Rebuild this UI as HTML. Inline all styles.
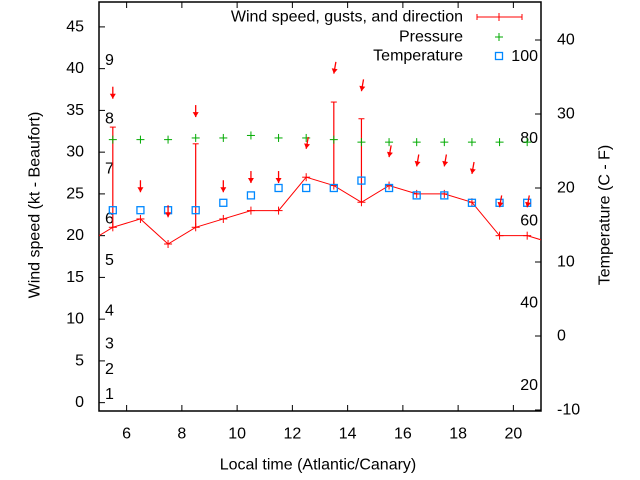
<!DOCTYPE html>
<html><head><meta charset="utf-8"><style>
html,body{margin:0;padding:0;background:#fff}
svg{display:block;font-family:"Liberation Sans",sans-serif}
</style></head><body>
<svg id="chart" width="640" height="480" viewBox="0 0 640 480"></svg>
<script>
const hours=[5.5,6.5,7.5,8.5,9.5,10.5,11.5,12.5,13.5,14.5,15.5,16.5,17.5,18.5,19.5,20.5];
const lineHours=[4.5,5.5,6.5,7.5,8.5,9.5,10.5,11.5,12.5,13.5,14.5,15.5,16.5,17.5,18.5,19.5,20.5,21.5];
const lineSpeed=[19,21,22,19,21,22,23,23,27,26,24,26,25,25,24,20,20,19];
const speed=[21,22,19,21,22,23,23,27,26,24,26,25,25,24,20,20];
const gust=[33,22,19,31,22,23,23,27,36,34,26,25,25,24,20,20];
const pressure=[31.5,31.5,31.5,31.7,31.7,32.0,31.7,31.7,31.5,31.2,31.2,31.2,31.2,31.2,31.2,31.2];
const tempC=[17,17,17,17,18,19,20,20,20,21,20,19,19,18,18,18];
const arrowY=[36.4,25.2,22.2,34.2,25.2,26.3,26.3,30.4,39.4,37.3,29.4,28.3,28.3,27.4,23.4,23.4];
const arrowDir=[0,0,0,0,0,0,0,10,10,10,10,10,10,10,10,10];
const xTicks=[6,8,10,12,14,16,18,20];
const yTicks=[0,5,10,15,20,25,30,35,40,45];
const y2Ticks=[-10,0,10,20,30,40];
const fTicks=[20,40,60,80,100];
const bftLabels=[1,2,3,4,5,6,7,8,9];
const bftKt=[1,4,7,11,17,22,28,34,41];

const L=99,R=541,T=2,B=411;
const FS='16';
const X=v=>L+(v-5)*(R-L)/16;
const Y=v=>B-(v+1)*8.35;
const Y2=c=>410-(c+10)*7.4;
const NS='http://www.w3.org/2000/svg';
const svg=document.getElementById('chart');
function mk(tag,attrs,parent){const e=document.createElementNS(NS,tag);for(const k in attrs)e.setAttribute(k,attrs[k]);(parent||svg).appendChild(e);return e;}
function txt(s,x,y,anchor,parent){const t=mk('text',{x:x,y:y,'font-size':FS,'text-anchor':anchor||'middle',fill:'#000','dominant-baseline':'central'},parent);t.textContent=s;return t;}

const defs=mk('defs',{});
const cp=mk('clipPath',{id:'clip'},defs);
mk('rect',{x:L,y:T,width:R-L,height:B-T},cp);

const frame=mk('rect',{x:L,y:T,width:R-L,height:B-T,fill:'none',stroke:'#000','stroke-width':1.5});



const gx=mk('g',{});


xTicks.forEach(v=>{
 mk('line',{x1:X(v),x2:X(v),y1:B,y2:B-6,stroke:'#000'},gx);
 mk('line',{x1:X(v),x2:X(v),y1:T,y2:T+6,stroke:'#000'},gx);
 const t=txt(String(v),X(v),434,'middle',gx);
 
 
});
const gy=mk('g',{});


yTicks.forEach(v=>{
 mk('line',{x1:L,x2:L+6,y1:Y(v),y2:Y(v),stroke:'#000'},gy);
 const t=txt(String(v),84,Y(v),'end',gy);
 
 
});
const gy2=mk('g',{});


y2Ticks.forEach(v=>{
 mk('line',{x1:R,x2:R-6,y1:Y2(v),y2:Y2(v),stroke:'#000'},gy2);
 const t=txt(String(v),557,Y2(v),'start',gy2);
 
 
});
fTicks.forEach(f=>{
 const c=(f-32)*5/9;
 const t=txt(String(f),538,Y2(c),'end');
 
 
});
bftLabels.forEach((b,i)=>{
 const t=txt(String(b),105,Y(bftKt[i]),'start');
 
 
});

let t=txt('Local time (Atlantic/Canary)',318,465);


t=mk('text',{x:0,y:0,'font-size':FS,'text-anchor':'middle','dominant-baseline':'central',transform:'translate(35,205) rotate(-90)'});
t.textContent='Wind speed (kt - Beaufort)';


t=mk('text',{x:0,y:0,'font-size':FS,'text-anchor':'middle','dominant-baseline':'central',transform:'translate(605,215) rotate(-90)'});
t.textContent='Temperature (C - F)';



const plot=mk('g',{'clip-path':'url(#clip)'});



const pts=lineHours.map((h,i)=>X(h)+','+Y(lineSpeed[i])).join(' ');
const pl=mk('polyline',{points:pts,fill:'none',stroke:'#f00','stroke-width':1},plot);



function plus(x,y,col,s,parent,name){
 const g=mk('g',{},parent);
 
 
 mk('line',{x1:x-s,x2:x+s,y1:y,y2:y,stroke:col},g);
 mk('line',{x1:x,x2:x,y1:y-s,y2:y+s,stroke:col},g);
 return g;
}
hours.forEach((h,i)=>{
 const x=X(h);
 if(gust[i]>speed[i]){
  const gl=mk('line',{x1:x,x2:x,y1:Y(speed[i]),y2:Y(gust[i]),stroke:'#f00','stroke-width':1.2},plot);
  
  
  mk('line',{x1:x-3,x2:x+3,y1:Y(gust[i]),y2:Y(gust[i]),stroke:'#f00'},plot);
 }
 plus(x,Y(speed[i]),'#f00',4,plot,'wind-speed-point');
 plus(x,Y(pressure[i]),'#0a0',4,plot,'pressure-point');
 const sq=mk('rect',{x:x-3.5,y:Y2(tempC[i])-3.5,width:7,height:7,fill:'none',stroke:'#08f','stroke-width':1.3},plot);
 
 
 const a=arrowDir[i]*Math.PI/180;
 const hx=x, hy=Y(arrowY[i]);
 const tx=hx+12*Math.sin(a), ty=hy-12*Math.cos(a);
 const ag=mk('g',{},plot);
 
 
 mk('line',{x1:tx,y1:ty,x2:hx,y2:hy,stroke:'#f00','stroke-width':1.3},ag);
 const ux=Math.sin(a),uy=-Math.cos(a);
 const bx=hx+5*ux,by=hy+5*uy;
 mk('polygon',{points:`${hx},${hy} ${bx-3*uy},${by+3*ux} ${bx+3*uy},${by-3*ux}`,fill:'#f00'},ag);
});

const lg=mk('g',{});


let e=txt('Wind speed, gusts, and direction',463,17,'end',lg);


mk('line',{x1:477,x2:522,y1:17,y2:17,stroke:'#f00'},lg);
mk('line',{x1:477,x2:477,y1:14,y2:20,stroke:'#f00'},lg);
mk('line',{x1:522,x2:522,y1:14,y2:20,stroke:'#f00'},lg);
mk('line',{x1:499,x2:499,y1:13,y2:21,stroke:'#f00'},lg);
e=txt('Pressure',463,37,'end',lg);


plus(499,37,'#0a0',4,lg,'legend-pressure-marker');
e=txt('Temperature',463,56,'end',lg);


mk('rect',{x:495.5,y:52.5,width:7,height:7,fill:'none',stroke:'#08f','stroke-width':1.3},lg);
</script>
</body></html>
